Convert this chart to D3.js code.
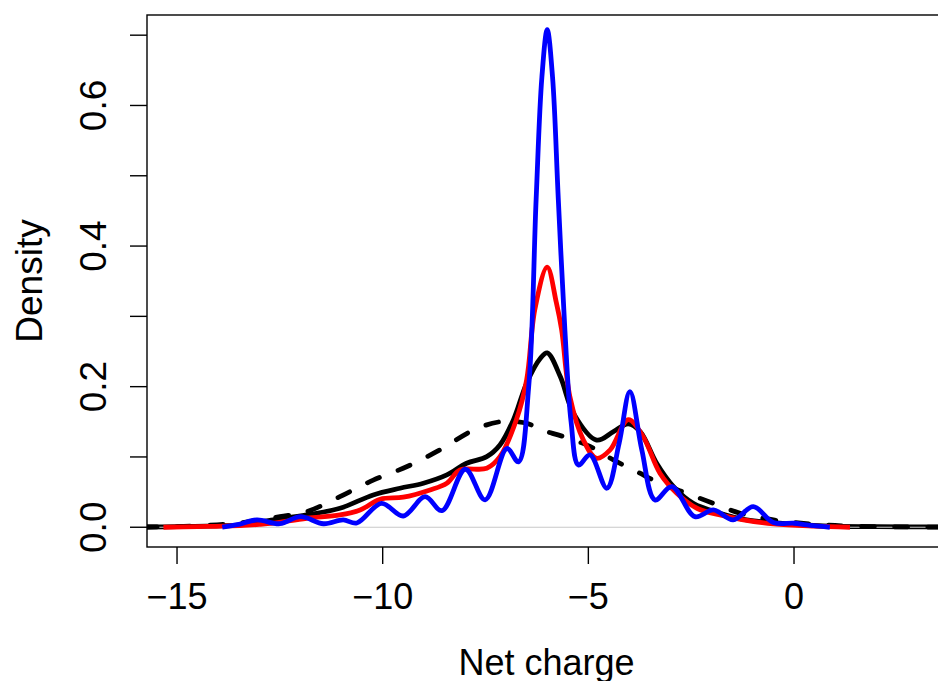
<!DOCTYPE html>
<html>
<head>
<meta charset="utf-8">
<script src="https://cdn.jsdelivr.net/npm/d3@7"></script>
<style>
  html, body { margin: 0; padding: 0; background: #fff; }
  svg { display: block; }
</style>
</head>
<body>
<div id="chart"></div>
<script>
// density curves (x = net charge, y = density)
const blackX = [-15.8, -15, -14, -13.5, -12.66, -11.85, -11.04, -10.23, -9.58, -9.01, -8.44, -7.96, -7.47, -7.15, -6.82, -6.5, -6.17, -6.0, -5.68, -5.36, -4.8, -4.39, -4.03, -3.74, -3.34, -2.93, -2.45, -1.8, -1.15, -0.35, 0.71, 2, 3.8]
const blackY = [0.0003, 0.0008, 0.002, 0.003, 0.0104, 0.0175, 0.027, 0.046, 0.0555, 0.0626, 0.0744, 0.091, 0.1004, 0.117, 0.153, 0.205, 0.24, 0.248, 0.214, 0.162, 0.124, 0.136, 0.147, 0.136, 0.091, 0.0578, 0.034, 0.02, 0.0104, 0.0057, 0.0018, 0.0008, 0.0004]

const redX = [-15.33, -14.5, -13.9, -13, -12.66, -11.85, -11.04, -10.55, -10.06, -9.5, -8.85, -8.44, -8.12, -7.47, -7.15, -6.75, -6.5, -6.3, -6.0, -5.78, -5.65, -5.45, -5.12, -4.8, -4.47, -4.03, -3.67, -3.26, -2.85, -2.36, -1.8, -1.23, -0.5, 0.5, 1.36]
const redY = [0.0, 0.001, 0.0015, 0.004, 0.0057, 0.0128, 0.0175, 0.0246, 0.0398, 0.0427, 0.053, 0.0626, 0.0815, 0.0839, 0.1004, 0.153, 0.2095, 0.31, 0.37, 0.32, 0.281, 0.186, 0.124, 0.098, 0.11, 0.153, 0.129, 0.0768, 0.0484, 0.027, 0.0175, 0.0104, 0.0047, 0.0015, 0.0]

const blueX = [-13.9, -13.5, -13.06, -12.5, -12.0, -11.44, -10.96, -10.63, -10.03, -9.5, -8.97, -8.56, -7.99, -7.51, -6.98, -6.7, -6.45, -6.27, -6.13, -6.0, -5.87, -5.73, -5.57, -5.42, -5.24, -4.96, -4.55, -4.25, -3.99, -3.7, -3.38, -2.97, -2.41, -1.96, -1.48, -0.99, -0.5, 0.0, 0.31, 0.87]
const blueY = [0.0, 0.004, 0.0104, 0.005, 0.015, 0.005, 0.0104, 0.006, 0.034, 0.016, 0.0435, 0.0236, 0.0825, 0.039, 0.112, 0.093, 0.2, 0.466, 0.64, 0.708, 0.64, 0.466, 0.28, 0.15, 0.0886, 0.103, 0.0555, 0.12, 0.193, 0.11, 0.0388, 0.0578, 0.0151, 0.0246, 0.0104, 0.0293, 0.0066, 0.0057, 0.0033, 0.0]

const dashX = [-15.8, -15, -14.5, -13.55, -12.5, -11.85, -11.04, -10.23, -9.42, -8.61, -7.8, -7.15, -6.5, -6.17, -5.61, -4.96, -4.39, -3.82, -3.26, -2.61, -1.96, -1.31, -0.5, 0.71, 1.93, 3.8]
const dashY = [0.0003, 0.0008, 0.002, 0.0057, 0.015, 0.022, 0.0435, 0.067, 0.086, 0.11, 0.138, 0.150, 0.148, 0.139, 0.129, 0.115, 0.0957, 0.079, 0.0626, 0.0484, 0.034, 0.02, 0.0104, 0.0033, 0.001, 0.0002]

const xTicks = [-15, -10, -5, 0]
const yTicks = [0, 0.1, 0.2, 0.3, 0.4, 0.5, 0.6, 0.7]
const yLabelTicks = [0, 0.2, 0.4, 0.6]

const width = 938
const height = 681
const box = { left: 147, top: 15, right: 946, bottom: 547 }
const font = "'Liberation Sans', Arial, Helvetica, sans-serif"
const lw = 4.8

const svg = d3.select("#chart").append("svg")
  .attr("width", width)
  .attr("height", height)

const x = d3.scaleLinear().domain([-15.73, 3.695]).range([box.left, box.right])
const y = d3.scaleLinear().domain([-0.0281, 0.7287]).range([box.bottom, box.top])

svg.append("defs").append("clipPath")
  .attr("id", "plotclip")
  .append("rect")
  .attr("x", box.left)
  .attr("y", box.top)
  .attr("width", box.right - box.left)
  .attr("height", box.bottom - box.top)

const plot = svg.append("g").attr("clip-path", "url(#plotclip)")

const line = d3.line()
  .x(d => x(d[0]))
  .y(d => y(d[1]))
  .curve(d3.curveCatmullRom.alpha(0.5))

const zip = (xs, ys) => xs.map((v, i) => [v, ys[i]])

// black solid first, then the zero line, then the others on top
plot.append("path")
  .attr("d", line(zip(blackX, blackY)))
  .attr("fill", "none")
  .attr("stroke", "#000")
  .attr("stroke-width", lw)
  .attr("stroke-linejoin", "round")

plot.append("line")
  .attr("x1", box.left).attr("x2", box.right)
  .attr("y1", y(0)).attr("y2", y(0))
  .attr("stroke", "#c8c8c8")
  .attr("stroke-width", 1)

plot.append("path")
  .attr("d", line(zip(dashX, dashY)))
  .attr("fill", "none")
  .attr("stroke", "#000")
  .attr("stroke-width", lw)
  .attr("stroke-dasharray", "13,20")
  .attr("stroke-linecap", "round")

plot.append("path")
  .attr("d", line(zip(redX, redY)))
  .attr("fill", "none")
  .attr("stroke", "#ff0000")
  .attr("stroke-width", lw)
  .attr("stroke-linejoin", "round")

plot.append("path")
  .attr("d", line(zip(blueX, blueY)))
  .attr("fill", "none")
  .attr("stroke", "#0000ff")
  .attr("stroke-width", lw)
  .attr("stroke-linejoin", "round")

// box
svg.append("rect")
  .attr("x", box.left)
  .attr("y", box.top)
  .attr("width", box.right - box.left)
  .attr("height", box.bottom - box.top)
  .attr("fill", "none")
  .attr("stroke", "#000")
  .attr("stroke-width", 1.4)

// x axis
const xAxis = svg.append("g")
xAxis.selectAll("line")
  .data(xTicks)
  .enter().append("line")
  .attr("x1", d => x(d)).attr("x2", d => x(d))
  .attr("y1", box.bottom).attr("y2", box.bottom + 17)
  .attr("stroke", "#000")
  .attr("stroke-width", 1.4)
xAxis.selectAll("text")
  .data(xTicks)
  .enter().append("text")
  .attr("x", d => x(d))
  .attr("y", 609)
  .attr("text-anchor", "middle")
  .attr("font-family", font)
  .attr("font-size", 36)
  .text(d => d < 0 ? "\u2212" + Math.abs(d) : String(d))

// y axis
const yAxis = svg.append("g")
yAxis.selectAll("line")
  .data(yTicks)
  .enter().append("line")
  .attr("x1", box.left - 17).attr("x2", box.left)
  .attr("y1", d => y(d)).attr("y2", d => y(d))
  .attr("stroke", "#000")
  .attr("stroke-width", 1.4)
yAxis.selectAll("text")
  .data(yLabelTicks)
  .enter().append("text")
  .attr("transform", d => `translate(106,${y(d)}) rotate(-90)`)
  .attr("text-anchor", "middle")
  .attr("font-family", font)
  .attr("font-size", 37)
  .text(d => d.toFixed(1))

// axis titles
svg.append("text")
  .attr("x", (box.left + box.right) / 2)
  .attr("y", 675)
  .attr("text-anchor", "middle")
  .attr("font-family", font)
  .attr("font-size", 36)
  .text("Net charge")

svg.append("text")
  .attr("transform", `translate(42,${(box.top + box.bottom) / 2}) rotate(-90)`)
  .attr("text-anchor", "middle")
  .attr("font-family", font)
  .attr("font-size", 37)
  .text("Density")
</script>
</body>
</html>
